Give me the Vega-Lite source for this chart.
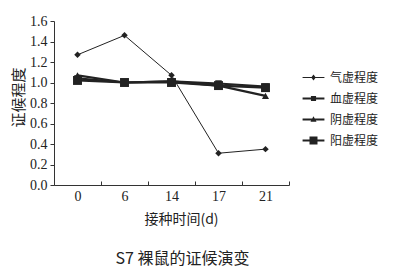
{
  "$schema": "https://vega.github.io/schema/vega-lite/v6.json",
  "autosize": "none",
  "width": 235,
  "height": 164,
  "padding": {"left": 54, "top": 21, "right": 107, "bottom": 90},
  "background": "#ffffff",
  "title": {
    "text": "S7 裸鼠的证候演变",
    "orient": "bottom",
    "anchor": "middle",
    "dx": 11,
    "offset": 25,
    "font": "Noto Sans CJK SC",
    "fontSize": 16,
    "fontWeight": "normal",
    "color": "#222"
  },
  "data": {
    "values": [
      {"day": 0, "series": "气虚程度", "value": 1.27},
      {"day": 6, "series": "气虚程度", "value": 1.46},
      {"day": 14, "series": "气虚程度", "value": 1.07},
      {"day": 17, "series": "气虚程度", "value": 0.31},
      {"day": 21, "series": "气虚程度", "value": 0.35},
      {"day": 0, "series": "血虚程度", "value": 1.04},
      {"day": 6, "series": "血虚程度", "value": 1.0},
      {"day": 14, "series": "血虚程度", "value": 1.01},
      {"day": 17, "series": "血虚程度", "value": 0.99},
      {"day": 21, "series": "血虚程度", "value": 0.96},
      {"day": 0, "series": "阴虚程度", "value": 1.07},
      {"day": 6, "series": "阴虚程度", "value": 1.0},
      {"day": 14, "series": "阴虚程度", "value": 1.01},
      {"day": 17, "series": "阴虚程度", "value": 0.97},
      {"day": 21, "series": "阴虚程度", "value": 0.87},
      {"day": 0, "series": "阳虚程度", "value": 1.02},
      {"day": 6, "series": "阳虚程度", "value": 1.0},
      {"day": 14, "series": "阳虚程度", "value": 1.0},
      {"day": 17, "series": "阳虚程度", "value": 0.97},
      {"day": 21, "series": "阳虚程度", "value": 0.95}
    ]
  },
  "encoding": {
    "x": {
      "field": "day",
      "type": "ordinal",
      "bandPosition": 0.5,
      "scale": {"type": "band", "paddingInner": 0, "paddingOuter": 0},
      "axis": {
        "title": "接种时间(d)",
        "labelAngle": 0,
        "tickBand": "extent",
        "tickSize": -4,
        "labelPadding": 8,
        "labelFont": "Liberation Serif",
        "labelFontSize": 14,
        "labelColor": "#222",
        "domainColor": "#333",
        "tickColor": "#333",
        "titleFont": "Noto Sans CJK SC",
        "titleFontSize": 14,
        "titleFontWeight": "normal",
        "titleColor": "#222",
        "titleX": 127,
        "titleY": 34,
        "titleBaseline": "middle"
      }
    },
    "y": {
      "field": "value",
      "type": "quantitative",
      "scale": {"domain": [0, 1.6], "nice": false},
      "axis": {
        "title": "证候程度",
        "values": [0, 0.2, 0.4, 0.6, 0.8, 1.0, 1.2, 1.4, 1.6],
        "format": ".1f",
        "grid": false,
        "tickSize": 4,
        "labelPadding": 3,
        "labelFont": "Liberation Serif",
        "labelFontSize": 14,
        "labelColor": "#222",
        "domainColor": "#333",
        "tickColor": "#333",
        "titleFont": "Noto Sans CJK SC",
        "titleFontSize": 15,
        "titleFontWeight": "normal",
        "titleColor": "#222",
        "titleAngle": -90,
        "titleX": -36,
        "titleY": 76,
        "titleAlign": "center",
        "titleBaseline": "middle"
      }
    }
  },
  "layer": [
    {
      "mark": {"type": "line", "color": "#222"},
      "encoding": {
        "detail": {"field": "series"},
        "strokeWidth": {
          "condition": {"test": "datum.series === '气虚程度'", "value": 1},
          "value": 2.2
        }
      }
    },
    {
      "mark": {"type": "point", "filled": true, "color": "#222", "opacity": 1},
      "encoding": {
        "shape": {
          "field": "series",
          "type": "nominal",
          "scale": {"domain": ["气虚程度", "血虚程度", "阴虚程度", "阳虚程度"], "range": ["diamond", "square", "triangle-up", "square"]},
          "legend": null
        },
        "size": {
          "condition": [
            {"test": "datum.series === '阳虚程度'", "value": 80},
            {"test": "datum.series === '阴虚程度'", "value": 50}
          ],
          "value": 42
        }
      }
    },
    {
      "transform": [{"filter": "datum.value < 0"}],
      "mark": {"type": "point", "filled": true, "color": "#222", "opacity": 1, "strokeWidth": 0},
      "encoding": {
        "shape": {
          "field": "series",
          "type": "nominal",
          "scale": {
            "domain": ["气虚程度", "血虚程度", "阴虚程度", "阳虚程度"],
            "range": [
              "M-1.15,-0.05H1.15V0.05H-1.15ZM0,-0.32L0.24,0L0,0.32L-0.24,0Z",
              "M-1.15,-0.11H1.15V0.11H-1.15ZM-0.27,-0.27H0.27V0.27H-0.27Z",
              "M-1.15,-0.11H1.15V0.11H-1.15ZM0,-0.34L0.32,0.24H-0.32Z",
              "M-1.15,-0.11H1.15V0.11H-1.15ZM-0.42,-0.42H0.42V0.42H-0.42Z"
            ]
          },
          "legend": {
            "title": null,
            "orient": "none",
            "legendX": 250,
            "legendY": 47,
            "padding": 0,
            "symbolSize": 361,
            "symbolStrokeWidth": 0,
            "symbolFillColor": "#222",
            "symbolOpacity": 1,
            "rowPadding": 5,
            "labelOffset": 7,
            "labelFont": "Noto Sans CJK SC",
            "labelFontSize": 12,
            "labelColor": "#222"
          }
        }
      }
    }
  ],
  "resolve": {"scale": {"shape": "independent"}},
  "config": {
    "view": {"stroke": null}
  }
}
